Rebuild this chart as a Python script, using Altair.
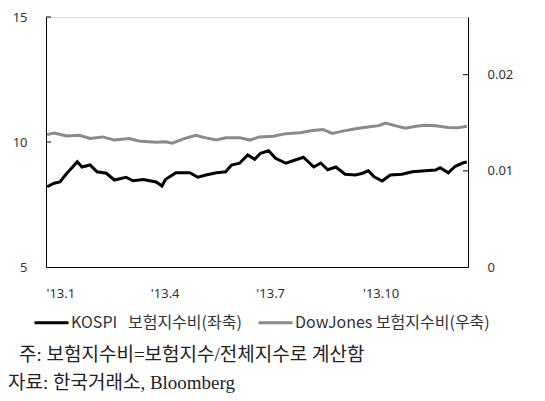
import altair as alt
import pandas as pd

# KOSPI insurance index ratio (left axis)
kospi_dates = ["2013-01-02", "2013-01-08", "2013-01-13", "2013-01-19", "2013-01-23", "2013-01-28",
               "2013-02-01", "2013-02-08", "2013-02-14", "2013-02-22", "2013-03-01", "2013-03-11",
               "2013-03-17", "2013-03-26", "2013-04-06", "2013-04-11", "2013-04-14", "2013-04-23",
               "2013-05-05", "2013-05-12", "2013-05-19", "2013-05-28", "2013-06-05", "2013-06-10",
               "2013-06-17", "2013-06-24", "2013-06-30", "2013-07-05", "2013-07-12", "2013-07-18",
               "2013-07-27", "2013-08-04", "2013-08-11", "2013-08-20", "2013-08-26", "2013-09-01",
               "2013-09-08", "2013-09-16", "2013-09-25", "2013-10-01", "2013-10-06", "2013-10-11",
               "2013-10-18", "2013-10-25", "2013-11-04", "2013-11-13", "2013-11-24", "2013-12-03",
               "2013-12-07", "2013-12-14", "2013-12-20", "2013-12-27", "2013-12-30"]
kospi_vals = [8.21, 8.35, 8.40, 8.75, 8.95, 9.21,
              9.00, 9.08, 8.81, 8.75, 8.48, 8.59,
              8.45, 8.50, 8.40, 8.24, 8.50, 8.77,
              8.77, 8.59, 8.68, 8.77, 8.81, 9.08,
              9.15, 9.48, 9.31, 9.55, 9.65, 9.35,
              9.15, 9.28, 9.39, 9.00, 9.16, 8.89,
              9.00, 8.71, 8.68, 8.75, 8.85, 8.61,
              8.44, 8.68, 8.71, 8.81, 8.85, 8.88,
              8.97, 8.77, 9.03, 9.17, 9.20]

# DowJones insurance index ratio (right axis)
dow_dates = ["2013-01-02", "2013-01-08", "2013-01-19", "2013-01-30", "2013-02-08", "2013-02-19",
             "2013-03-01", "2013-03-14", "2013-03-22", "2013-04-06", "2013-04-14", "2013-04-20",
             "2013-04-29", "2013-05-10", "2013-05-19", "2013-05-28", "2013-06-05", "2013-06-17",
             "2013-06-26", "2013-07-04", "2013-07-16", "2013-07-27", "2013-08-08", "2013-08-19",
             "2013-08-28", "2013-09-05", "2013-09-14", "2013-09-25", "2013-10-04", "2013-10-15",
             "2013-10-21", "2013-10-29", "2013-11-07", "2013-11-16", "2013-11-24", "2013-12-03",
             "2013-12-14", "2013-12-22", "2013-12-30"]
dow_vals = [0.01377, 0.01393, 0.01363, 0.01370, 0.01337, 0.01353,
            0.01320, 0.01337, 0.01310, 0.01297, 0.01303, 0.01287,
            0.01330, 0.01370, 0.01343, 0.01320, 0.01343, 0.01343,
            0.01320, 0.01353, 0.01360, 0.01387, 0.01397, 0.01420,
            0.01430, 0.01390, 0.01413, 0.01437, 0.01453, 0.01470,
            0.01497, 0.01470, 0.01443, 0.01463, 0.01473, 0.01470,
            0.01450, 0.01447, 0.01463]

name_k = "KOSPI\u00a0\u00a0\u00a0보험지수비(좌축)"
name_d = "DowJones 보험지수비(우축)"

left_ticks = [5, 10, 15]
right_ticks = [0, 0.01, 0.02]
month_ticks = [1, 4, 7, 10]

note1 = "주: 보험지수비=보험지수/전체지수로 계산함"
note2 = "자료: 한국거래소, Bloomberg"

df_k = pd.DataFrame({"date": kospi_dates, "value": kospi_vals, "series": name_k})
df_d = pd.DataFrame({"date": dow_dates, "value": dow_vals, "series": name_d})

AXIS_FONT = "Noto Sans"
KFONT = "Noto Sans CJK KR"

xscale = alt.Scale(type="utc",
                   domain=[alt.DateTime(year=2013, month=1, date=1, utc=True),
                           alt.DateTime(year=2013, month=12, date=31, utc=True)])
xaxis = alt.Axis(values=[alt.DateTime(year=2013, month=m, date=1, utc=True) for m in month_ticks],
                 labelExpr="\"'13.\" + (utcmonth(datum.value) + 1)",
                 labelAlign="left", labelPadding=20, ticks=False, grid=False,
                 domainColor="black", labelFont=AXIS_FONT, labelFontSize=13,
                 labelColor="#333333", title=None)

color = alt.Color("series:N",
                  scale=alt.Scale(domain=[name_k, name_d], range=["#000000", "#8a8a8a"]),
                  legend=alt.Legend(orient="none", legendX=-13, legendY=287, direction="horizontal",
                                    symbolType="stroke", symbolSize=1156, symbolStrokeWidth=3,
                                    labelOffset=1, columnPadding=10, padding=0, title=None,
                                    labelFont=KFONT, labelFontSize=16, labelColor="#333333",
                                    labelLimit=400))

k_line = alt.Chart(df_k).mark_line(strokeWidth=3).encode(
    x=alt.X("date:T", scale=xscale, axis=xaxis),
    y=alt.Y("value:Q", scale=alt.Scale(domain=[5, 15]),
            axis=alt.Axis(values=left_ticks, ticks=False, grid=False, labelPadding=19,
                          domainColor="black", labelFont=AXIS_FONT, labelFontSize=13,
                          labelColor="#333333", title=None)),
    color=color,
)
k_ticks = alt.Chart(pd.DataFrame({"v": left_ticks[1:]})).mark_rule(color="black", strokeWidth=1).encode(
    y="v:Q", x=alt.value(0), x2=alt.value(5))
k_layer = alt.layer(k_line, k_ticks)

d_line = alt.Chart(df_d).mark_line(strokeWidth=3).encode(
    x=alt.X("date:T", scale=xscale, axis=xaxis),
    y=alt.Y("value:Q", scale=alt.Scale(domain=[0, 0.025]),
            axis=alt.Axis(orient="right", values=right_ticks, format="~g", ticks=False, grid=False,
                          labelPadding=19, domainColor="black", labelFont=AXIS_FONT,
                          labelFontSize=13, labelColor="#333333", title=None)),
    color=color,
)
d_ticks = alt.Chart(pd.DataFrame({"v": right_ticks[1:]})).mark_rule(color="black", strokeWidth=1).encode(
    y="v:Q", x=alt.value(417), x2=alt.value(422))
d_layer = alt.layer(d_line, d_ticks)

main = alt.layer(k_layer, d_layer).resolve_scale(y="independent")

notes = alt.layer(
    alt.Chart(pd.DataFrame({"t": [note1]})).mark_text(
        align="left", baseline="middle", font="Liberation Serif, " + KFONT, fontSize=19, color="#222222"
    ).encode(text="t:N", x=alt.value(-27), y=alt.value(338)),
    alt.Chart(pd.DataFrame({"t": [note2]})).mark_text(
        align="left", baseline="middle", font="Liberation Serif, " + KFONT, fontSize=19, color="#222222"
    ).encode(text="t:N", x=alt.value(-38), y=alt.value(366)),
)

chart = alt.layer(main, notes).properties(
    width=422, height=250,
    autosize=alt.AutoSizeParams(type="none"),
    padding={"left": 38, "top": 9, "right": 69, "bottom": 126},
).configure_view(stroke=None).configure(background="white")

chart.save("out.html", embed_options={"renderer": "svg", "actions": False})
